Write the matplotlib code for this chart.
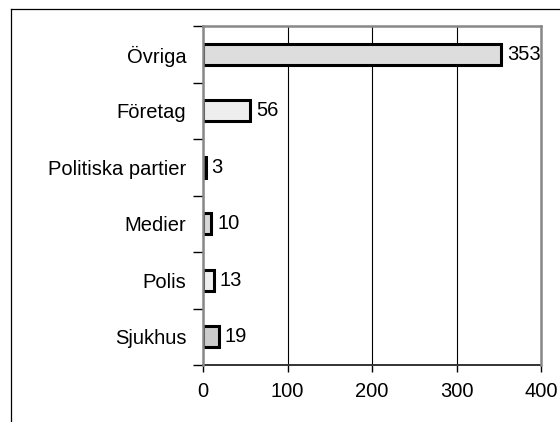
import numpy as np
import matplotlib
matplotlib.use("Agg")
import matplotlib.pyplot as plt
from matplotlib.lines import Line2D

categories = ["Övriga", "Företag", "Politiska partier", "Medier", "Polis", "Sjukhus"]
values = [353, 56, 3, 10, 13, 19]
fills = ["#dddddd", "#eeeeee", "#dddddd", "#d8d8d8", "#eeeeee", "#cccccc"]
xticks = [0, 100, 200, 300, 400]

plt.rcParams["font.family"] = ["Liberation Sans", "DejaVu Sans"]
fs = 14.5

fig = plt.figure(figsize=(5.6, 4.22), dpi=100)
W, H = 560, 422
ax = fig.add_axes([203 / W, 1 - 365 / H, (541 - 203) / W, (365 - 26) / H])

# outer frame (only top and left visible in the crop)
fig.add_artist(Line2D([11 / W, 1], [1 - 9 / H, 1 - 9 / H], color="black", lw=0.9,
                      transform=fig.transFigure))
fig.add_artist(Line2D([11 / W, 11 / W], [0, 1 - 9 / H], color="black", lw=0.9,
                      transform=fig.transFigure))

y = np.arange(len(categories))
bars = ax.barh(y, values, height=0.37, color=fills, edgecolor="black", linewidth=2.2, zorder=2)
ax.bar_label(bars, padding=4, fontsize=fs, clip_on=False)

ax.set_xlim(0, 400)
ax.set_ylim(len(categories) - 0.5, -0.5)
ax.set_xticks(xticks)
ax.set_xticklabels([str(t) for t in xticks], fontsize=fs)
ax.set_yticks(y)
ax.set_yticklabels(categories, fontsize=fs)
ax.set_yticks(np.arange(-0.5, len(categories)), minor=True)
ax.tick_params(axis="y", which="major", length=0, pad=12)
ax.tick_params(axis="y", which="minor", length=7, width=1, direction="out")
ax.tick_params(axis="x", length=5, width=1, direction="out", pad=7)

ax.grid(axis="x", color="black", linewidth=0.8, zorder=0)
ax.set_axisbelow(True)

for side in ["left", "top", "right"]:
    ax.spines[side].set_color("#888888")
    ax.spines[side].set_linewidth(1.8)
    ax.spines[side].set_zorder(4)
ax.spines["bottom"].set_color("#333333")
ax.spines["bottom"].set_linewidth(1.4)

fig.savefig("out.png", dpi=100)
